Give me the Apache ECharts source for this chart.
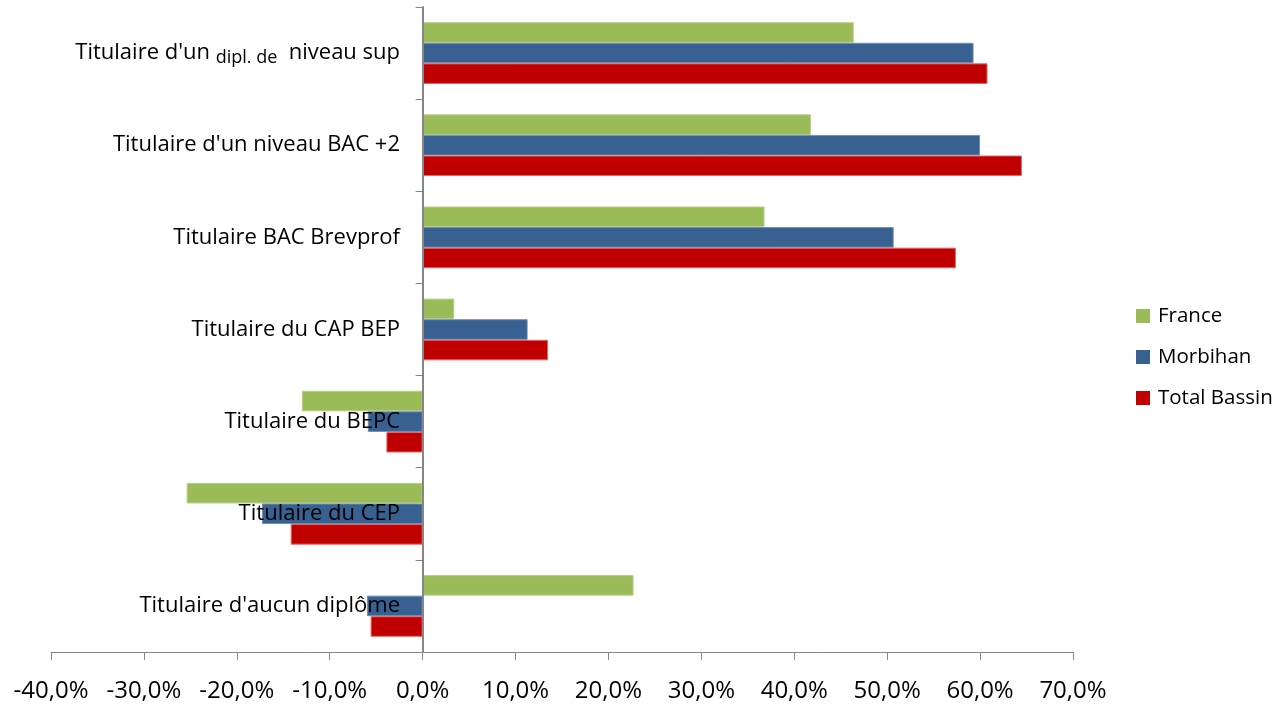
<!DOCTYPE html>
<html>
<head>
<meta charset="utf-8">
<script src="https://cdn.jsdelivr.net/npm/echarts@6/dist/echarts.min.js"></script>
<style>html,body{margin:0;padding:0;background:#fff}#c{width:1274px;height:704px}</style>
</head>
<body>
<div id="c"></div>
<script>
var categories = ["Titulaire d'un dipl. de niveau sup", "Titulaire d'un niveau BAC +2", "Titulaire BAC Brevprof", "Titulaire du CAP BEP", "Titulaire du BEPC", "Titulaire du CEP", "Titulaire d'aucun diplôme"];
var france = [46.4, 41.8, 36.8, 3.4, -13.0, -25.4, 22.7];
var morbihan = [59.3, 60.0, 50.7, 11.3, -5.9, -17.3, -6.0];
var totalBassin = [60.8, 64.5, 57.4, 13.5, -3.9, -14.2, -5.6];
var seriesNames = ["France", "Morbihan", "Total Bassin"];
var colors = ["#9BBB59", "#386090", "#C00000"];
var borders = ["#B5CF85", "#6F8FB5", "#E06666"];

var FONT = "Open Sans";
var chart = echarts.init(document.getElementById('c'), null, {renderer: 'canvas'});
var data = [france, morbihan, totalBassin];
chart.setOption({
  animation: false,
  textStyle: {fontFamily: FONT},
  grid: {left: 51, right: 201, top: 7, bottom: 52, containLabel: false, outerBoundsMode: 'none'},
  legend: {
    orient: 'vertical', left: 1136, top: 305, itemWidth: 14, itemHeight: 14, itemGap: 19, padding: 0,
    icon: 'rect',
    itemStyle: {borderWidth: 0},
    textStyle: {fontSize: 20.5, lineHeight: 22, color: '#000', fontFamily: FONT, padding: [0,0,0,3]},
    data: seriesNames
  },
  xAxis: {
    type: 'value', min: -40, max: 70, interval: 10,
    axisLine: {show: true, lineStyle: {color: '#868686', width: 1}},
    axisTick: {show: true, length: 8, lineStyle: {color: '#868686'}},
    splitLine: {show: false},
    axisLabel: {fontSize: 24, color: '#000', margin: 27, fontFamily: FONT,
      formatter: function (v) { return v.toFixed(1).replace('.', ',') + '%'; }}
  },
  yAxis: {
    type: 'category', inverse: true, data: categories, z: 10,
    axisLine: {show: true, onZero: true, lineStyle: {color: '#868686', width: 2}},
    axisTick: {show: true, length: 7, alignWithLabel: false, lineStyle: {color: '#868686'}},
    axisLabel: {fontSize: 22, color: '#000', margin: -349, fontFamily: FONT,
      formatter: function (v) {
        if (v.indexOf('dipl. de') >= 0) {
          return "Titulaire d'un {s|dipl. de}  niveau sup";
        }
        return v;
      },
      rich: {s: {fontSize: 18, color: '#000', fontFamily: FONT, padding: [10, 0, 0, 0]}}
    }
  },
  series: data.map(function (d, i) {
    return {
      name: seriesNames[i], type: 'bar', data: d, barGap: '0%', barCategoryGap: '33%',
      itemStyle: {color: colors[i], borderColor: borders[i], borderWidth: 1}
    };
  })
});
</script>
</body>
</html>
